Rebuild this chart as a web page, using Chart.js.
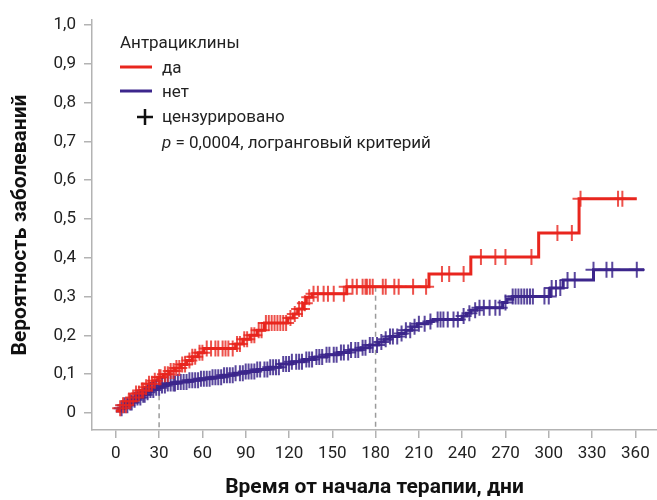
<!DOCTYPE html>
<html>
<head>
<meta charset="utf-8">
<script src="https://cdn.jsdelivr.net/npm/chart.js@4.4.1/dist/chart.umd.min.js"></script>
<style>
html, body { margin: 0; padding: 0; background: #fff; }
</style>
</head>
<body>
<canvas id="myChart" width="657" height="500"></canvas>
<script>
// Kaplan-Meier style cumulative incidence
var redTimes  = [0, 2, 5, 8, 11, 14, 17, 20, 23, 26, 29, 33, 37, 41, 45, 49, 53, 57, 61, 83, 88, 93, 98, 103, 119, 123, 126, 130, 132, 136, 160, 217, 246, 293, 321, 361];
var redValues = [0.005, 0.012, 0.02, 0.03, 0.04, 0.05, 0.058, 0.066, 0.075, 0.083, 0.092, 0.1, 0.108, 0.116, 0.125, 0.135, 0.145, 0.155, 0.166, 0.178, 0.19, 0.2, 0.213, 0.232, 0.245, 0.255, 0.268, 0.283, 0.298, 0.307, 0.325, 0.358, 0.402, 0.464, 0.552, 0.552];

var blueTimes  = [0, 3, 6, 9, 12, 15, 18, 21, 24, 27, 31, 36, 42, 50, 58, 66, 74, 82, 90, 98, 106, 114, 122, 130, 138, 146, 154, 162, 170, 176, 182, 186, 190, 196, 201, 205, 209, 216, 220, 240, 243, 246, 250, 268, 271, 275, 301, 310, 331, 366];
var blueValues = [0.005, 0.012, 0.02, 0.027, 0.034, 0.04, 0.047, 0.053, 0.059, 0.065, 0.071, 0.076, 0.08, 0.084, 0.088, 0.092, 0.097, 0.102, 0.107, 0.112, 0.118, 0.126, 0.132, 0.138, 0.144, 0.15, 0.156, 0.162, 0.168, 0.175, 0.183, 0.19, 0.197, 0.205, 0.213, 0.222, 0.23, 0.236, 0.241, 0.25, 0.257, 0.265, 0.271, 0.285, 0.293, 0.3, 0.322, 0.343, 0.369, 0.369];

// censored observations (days)
var redCensored = [3, 5, 7, 9, 10, 12, 14, 16, 18, 19, 21, 23, 25, 27, 30, 31, 34, 36, 38, 40, 42, 44, 46, 48, 51, 53, 55, 58, 60, 63, 66, 69, 71, 74, 76, 78, 81, 84, 86, 89, 91, 94, 96, 99, 101, 104, 106, 108, 110, 112, 114, 116, 118, 121, 124, 127, 129, 131, 134, 137, 140, 144, 147, 151, 158, 160, 164, 167, 171, 173, 174, 176, 178, 185, 187, 193, 196, 206, 215, 226, 231, 241, 253, 263, 270, 288, 306, 316, 322, 348, 351];
var blueCensored = [4, 6, 8, 10, 11, 13, 15, 17, 19, 20, 22, 24, 26, 28, 30, 32, 34, 36, 38, 40, 41, 43, 45, 47, 49, 51, 53, 55, 57, 59, 61, 63, 65, 67, 69, 71, 73, 75, 77, 79, 81, 83, 86, 88, 90, 92, 94, 96, 98, 100, 103, 105, 107, 109, 111, 113, 116, 118, 120, 122, 125, 127, 129, 132, 134, 136, 139, 141, 143, 146, 148, 151, 153, 156, 158, 161, 163, 166, 168, 171, 173, 176, 178, 181, 184, 187, 190, 192, 195, 198, 201, 204, 207, 210, 214, 218, 223, 225, 227, 230, 234, 237, 241, 245, 249, 252, 255, 259, 263, 266, 270, 275, 277, 279, 281, 283, 285, 287, 289, 297, 300, 302, 305, 308, 313, 318, 331, 340, 344, 361];

var markerDays = [30, 180]; // dashed reference lines

var xTicks = [0, 30, 60, 90, 120, 150, 180, 210, 240, 270, 300, 330, 360];
var yTicks = [0, 0.1, 0.2, 0.3, 0.4, 0.5, 0.6, 0.7, 0.8, 0.9, 1.0];
var yTickLabels = ['0', '0,1', '0,2', '0,3', '0,4', '0,5', '0,6', '0,7', '0,8', '0,9', '1,0'];

var RED = 'rgb(232, 38, 30)';
var BLUE = 'rgb(60, 38, 140)';

function stepValue(times, values, t) {
    var v = values[0];
    for (var i = 0; i < times.length; i++) {
        if (times[i] <= t) v = values[i];
    }
    return v;
}

function toPoints(times, values) {
    return times.map(function (t, i) { return {x: t, y: values[i]}; });
}

function censorPoints(days, times, values) {
    return days.map(function (t) { return {x: t, y: stepValue(times, values, t)}; });
}

var Y_MIN = -0.044;

var dashedSets = markerDays.map(function (d) {
    return {
        data: [{x: d, y: stepValue(redTimes, redValues, d)}, {x: d, y: Y_MIN}],
        borderColor: '#9b9b9b',
        borderWidth: 1.5,
        borderDash: [5, 4],
        pointRadius: 0,
        order: 10
    };
});

// legend block in the top left corner
var legendPlugin = {
    id: 'kmLegend',
    afterDraw: function (chart) {
        var ctx = chart.ctx;
        ctx.save();
        ctx.fillStyle = '#222';
        ctx.textBaseline = 'alphabetic';
        ctx.font = '17px Roboto';
        ctx.fillText('Антрациклины', 120, 48);

        ctx.lineWidth = 3;
        ctx.strokeStyle = RED;
        ctx.beginPath(); ctx.moveTo(120, 67); ctx.lineTo(152, 67); ctx.stroke();
        ctx.fillText('да', 162, 73);

        ctx.strokeStyle = BLUE;
        ctx.beginPath(); ctx.moveTo(120, 91); ctx.lineTo(152, 91); ctx.stroke();
        ctx.fillText('нет', 162, 97);

        ctx.strokeStyle = '#111';
        ctx.lineWidth = 2.5;
        ctx.beginPath();
        ctx.moveTo(137, 117); ctx.lineTo(153, 117);
        ctx.moveTo(145, 109); ctx.lineTo(145, 125);
        ctx.stroke();
        ctx.fillText('цензурировано', 162, 122);

        ctx.font = 'italic 17px Roboto';
        ctx.fillText('p', 162, 148);
        var w = ctx.measureText('p').width;
        ctx.font = '17px Roboto';
        ctx.fillText(' = 0,0004, логранговый критерий', 162 + w, 148);
        ctx.restore();
    }
};

Chart.defaults.font.family = 'Roboto';
Chart.defaults.color = '#222';

var element = document.getElementById('myChart').getContext('2d');

var chart = new Chart(element, {
    type: 'line',
    data: {
        datasets: [
            {
                label: 'да',
                data: toPoints(redTimes, redValues),
                stepped: true,
                borderColor: RED,
                borderWidth: 3,
                pointRadius: 0,
                order: 2
            },
            {
                label: 'нет',
                data: toPoints(blueTimes, blueValues),
                stepped: true,
                borderColor: BLUE,
                borderWidth: 3,
                pointRadius: 0,
                order: 2
            },
            {
                label: 'цензурировано да',
                data: censorPoints(redCensored, redTimes, redValues),
                showLine: false,
                pointStyle: 'cross',
                pointRadius: 8,
                pointBorderWidth: 2,
                pointBorderColor: 'rgba(232, 38, 30, 0.8)',
                order: 1
            },
            {
                label: 'цензурировано нет',
                data: censorPoints(blueCensored, blueTimes, blueValues),
                showLine: false,
                pointStyle: 'cross',
                pointRadius: 8,
                pointBorderWidth: 2,
                pointBorderColor: 'rgba(60, 38, 140, 0.85)',
                order: 1
            }
        ].concat(dashedSets)
    },
    options: {
        responsive: false,
        animation: false,
        layout: { autoPadding: false, padding: { top: 20, left: 0, right: 0, bottom: 0 } },
        plugins: {
            legend: { display: false },
            tooltip: { enabled: false }
        },
        scales: {
            x: {
                type: 'linear',
                min: -16.5,
                max: 375,
                afterBuildTicks: function (scale) {
                    scale.ticks = xTicks.map(function (v) { return {value: v}; });
                },
                afterFit: function (scale) {
                    scale.height = 70;
                    scale.paddingLeft = 0;
                    scale.paddingRight = 0;
                },
                ticks: {
                    autoSkip: false,
                    maxRotation: 0,
                    padding: 6,
                    font: { size: 17 },
                    color: '#222'
                },
                grid: { drawOnChartArea: false, drawTicks: true, tickLength: 8, color: '#b3b3b3', lineWidth: 1.5 },
                border: { color: '#b3b3b3', width: 1.5 },
                title: {
                    display: true,
                    text: 'Время от начала терапии, дни',
                    font: { size: 21, weight: 'bold' },
                    color: '#111',
                    padding: { top: 0, bottom: 0 }
                }
            },
            y: {
                type: 'linear',
                min: Y_MIN,
                max: 1.013,
                afterBuildTicks: function (scale) {
                    scale.ticks = yTicks.map(function (v) { return {value: v}; });
                },
                afterFit: function (scale) {
                    scale.width = 92;
                    scale.paddingTop = 0;
                    scale.paddingBottom = 0;
                },
                ticks: {
                    padding: 8,
                    font: { size: 17 },
                    color: '#222',
                    callback: function (value, index) { return yTickLabels[index]; }
                },
                grid: { drawOnChartArea: false, drawTicks: true, tickLength: 8, color: '#b3b3b3', lineWidth: 1.5 },
                border: { color: '#b3b3b3', width: 1.5 },
                title: {
                    display: true,
                    text: 'Вероятность заболеваний',
                    font: { size: 21, weight: 'bold' },
                    color: '#111',
                    padding: { top: 8, bottom: 0 }
                }
            }
        }
    },
    plugins: [legendPlugin]
});
</script>
</body>
</html>
